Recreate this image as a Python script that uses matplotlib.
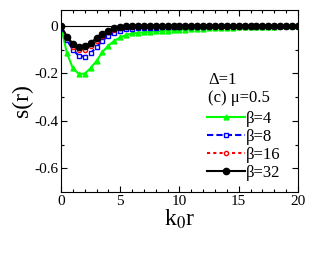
import numpy as np
import matplotlib
matplotlib.use("Agg")
import matplotlib.pyplot as plt
from matplotlib.ticker import FixedLocator

plt.rcParams['font.family'] = ['Liberation Serif', 'DejaVu Serif']
plt.rcParams['mathtext.fontset'] = 'stix'

# k0 r grid (step 0.5)
k0r = [0.5 * i for i in range(41)]

s_beta4 = [0.0, -0.115, -0.178, -0.202, -0.202, -0.178, -0.148, -0.110, -0.083, -0.063,
           -0.049, -0.038, -0.032, -0.029, -0.027, -0.025, -0.023, -0.021, -0.020, -0.018,
           -0.017, -0.016, -0.015, -0.013, -0.012, -0.011, -0.010, -0.009, -0.008, -0.007,
           -0.006, -0.005, -0.004, -0.004, -0.003, -0.003, -0.003, -0.002, -0.002, -0.002,
           -0.002]
s_beta8 = [0.0, -0.060, -0.100, -0.126, -0.130, -0.115, -0.090, -0.062, -0.042, -0.029,
           -0.020, -0.015, -0.012, -0.010, -0.009, -0.008, -0.007, -0.006, -0.006, -0.005,
           -0.005, -0.004, -0.004, -0.003, -0.003, -0.002, -0.002, -0.002, -0.001, -0.001,
           -0.001, -0.001, -0.001, -0.001, -0.001, -0.001, -0.001, -0.001, -0.001, -0.001,
           -0.001]
s_beta16 = [0.0, -0.050, -0.087, -0.101, -0.100, -0.085, -0.063, -0.043, -0.027, -0.016,
            -0.009, -0.005, -0.003, -0.002, -0.001, 0.000, 0.000, 0.000, 0.000, 0.000,
            0.000, 0.000, 0.000, 0.000, 0.000, 0.000, 0.000, 0.000, 0.000, 0.000,
            0.000, 0.000, 0.000, 0.000, 0.000, 0.000, 0.000, 0.000, 0.000, 0.000,
            0.000]
s_beta32 = [0.0, -0.045, -0.075, -0.087, -0.086, -0.072, -0.052, -0.034, -0.020, -0.011,
            -0.005, -0.002, -0.001, 0.000, 0.000, 0.000, 0.000, 0.000, 0.000, 0.000,
            0.000, 0.000, 0.000, 0.000, 0.000, 0.000, 0.000, 0.000, 0.000, 0.000,
            0.000, 0.000, 0.000, 0.000, 0.000, 0.000, 0.000, 0.000, 0.000, 0.000,
            0.000]

x_ticks = [0, 5, 10, 15, 20]
x_ticklabels = ['0', '5', '10', '15', '20']
y_ticks = [0, -0.2, -0.4, -0.6]
y_ticklabels = ['0', '-0.2', '-0.4', '-0.6']

fig = plt.figure(figsize=(3.11, 2.69), dpi=100)
ax = fig.add_axes([0.196, 0.286, 0.762, 0.677])

ax.axhline(0, color='black', lw=0.8, zorder=1)

ax.plot(k0r, s_beta4, color='#00ff00', lw=1.5, marker='^', ms=3.5,
        mfc='#00ff00', mec='#00ff00', label='β=4')
ax.plot(k0r, s_beta8, color='#0000ff', lw=1.5, ls=(0, (3, 1.5)), marker='s', ms=3,
        mfc='white', mec='#0000ff', mew=1.0, label='β=8')
ax.plot(k0r, s_beta16, color='#ff0000', lw=1.5, ls=(0, (1.5, 1.5)), marker='o', ms=3,
        mfc='white', mec='#ff0000', mew=1.0, label='β=16')
ax.plot(k0r, s_beta32, color='black', lw=1.5, marker='o', ms=4.5,
        mfc='black', mec='black', label='β=32')

ax.set_xlim(0, 20)
ax.set_ylim(-0.7, 0.067)
ax.xaxis.set_major_locator(FixedLocator(x_ticks))
ax.xaxis.set_minor_locator(FixedLocator(list(range(0, 21))))
ax.yaxis.set_major_locator(FixedLocator(y_ticks))
ax.yaxis.set_minor_locator(FixedLocator([0, -0.1, -0.2, -0.3, -0.4, -0.5, -0.6]))
ax.set_xticklabels(x_ticklabels)
ax.set_yticklabels(y_ticklabels)

ax.tick_params(which='both', direction='in', top=True, right=True, labelsize=11, pad=2)
ax.tick_params(which='major', length=4, width=0.8)
ax.tick_params(which='minor', length=2, width=0.8)
for sp in ax.spines.values():
    sp.set_linewidth(0.8)

ax.set_xlabel(r'k$_0$r', fontsize=17, labelpad=0)
ax.set_ylabel('s(r)', fontsize=17, labelpad=1)

ax.text(0.62, 0.615, 'Δ=1', transform=ax.transAxes, fontsize=12, va='center')
ax.text(0.62, 0.516, '(c) μ=0.5', transform=ax.transAxes, fontsize=12, va='center')

ax.legend(loc='upper left', bbox_to_anchor=(0.616, 0.445), frameon=False, fontsize=12,
          handlelength=2.3, handletextpad=0.05, labelspacing=0.12, borderaxespad=0,
          borderpad=0, numpoints=1)

fig.savefig('out.png', dpi=100)
